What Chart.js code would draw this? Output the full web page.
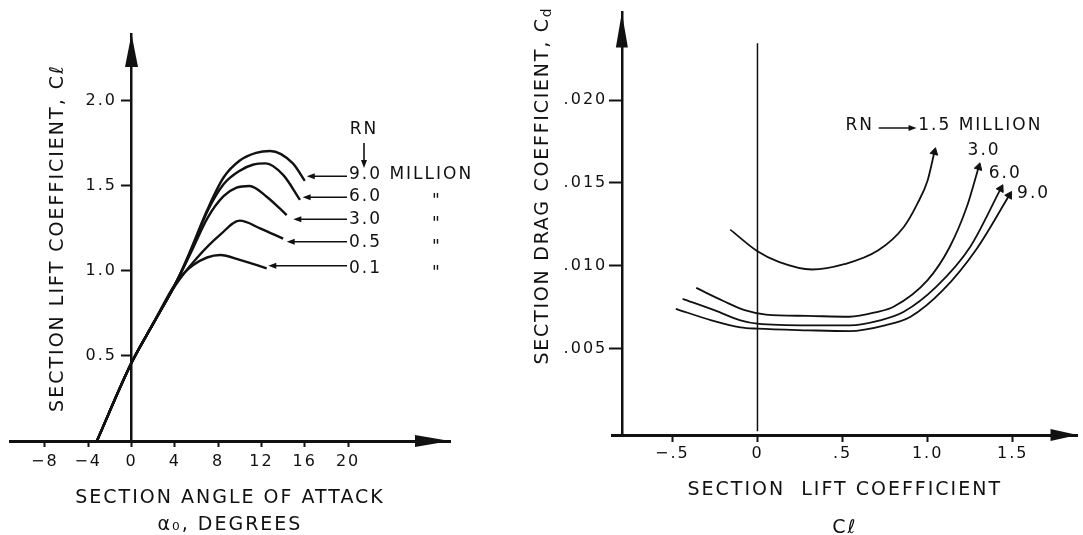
<!DOCTYPE html>
<html>
<head>
<meta charset="utf-8">
<script src="https://cdn.jsdelivr.net/npm/chart.js@4.4.1/dist/chart.umd.min.js"></script>
<style>
  html, body { margin: 0; padding: 0; background: #fff; width: 1083px; height: 535px; overflow: hidden; }
  #liftBox { position: absolute; left: 0; top: 0; width: 480px; height: 540px; }
  #dragBox { position: absolute; left: 520px; top: 0; width: 563px; height: 550px; }
</style>
</head>
<body>
<div id="liftBox"><canvas id="liftChart"></canvas></div>
<div id="dragBox"><canvas id="dragChart"></canvas></div>
<script>
// ---- lift curves: section angle of attack (deg) vs Cl, one pair per RN
const liftRN = ["9.0", "6.0", "3.0", "0.5", "0.1"];
const alpha90 = [-3.2, 0, 2.0, 4.1, 5.5, 7.0, 8.5, 10.0, 11.5, 12.8, 14.9, 16.0];
const cl90    = [0, 0.46, 0.69, 0.93, 1.13, 1.36, 1.55, 1.65, 1.695, 1.706, 1.633, 1.53];
const alpha60 = [-3.2, 0, 2.0, 4.1, 5.5, 7.0, 8.5, 10.0, 11.2, 12.4, 14.0, 15.56];
const cl60    = [0, 0.46, 0.69, 0.93, 1.12, 1.35, 1.51, 1.59, 1.625, 1.633, 1.565, 1.418];
const alpha30 = [-3.2, 0, 2.0, 4.1, 5.5, 7.0, 8.5, 9.7, 10.9, 12.48, 14.33];
const cl30    = [0, 0.46, 0.69, 0.93, 1.11, 1.31, 1.44, 1.49, 1.50, 1.437, 1.329];
const alpha05 = [-3.2, 0, 2.0, 4.1, 6.02, 8.17, 10.0, 11.87, 14.0];
const cl05    = [0, 0.46, 0.69, 0.92, 1.075, 1.212, 1.296, 1.251, 1.19];
const alpha01 = [-3.2, 0, 2.0, 4.0, 5.7, 8.2, 10.0, 12.48];
const cl01    = [0, 0.46, 0.69, 0.92, 1.035, 1.094, 1.065, 1.016];

const alphaTicks = [-8, -4, 0, 4, 8, 12, 16, 20];
const liftTicks = [0.5, 1.0, 1.5, 2.0];

// ---- drag polars: Cl vs Cd, one pair per RN
const dragRN = ["1.5", "3.0", "6.0", "9.0"];
const clD15 = [-0.16, 0, 0.125, 0.32, 0.51, 0.71, 0.86, 0.94, 1.0, 1.04];
const cdD15 = [0.01218, 0.01087, 0.01023, 0.00977, 0.01009, 0.01093, 0.01234, 0.01375, 0.01515, 0.01686];
const clD30 = [-0.36, -0.2, -0.07, 0.05, 0.3, 0.54, 0.7, 0.8, 1.0, 1.13, 1.23, 1.30];
const cdD30 = [0.00866, 0.00787, 0.0073, 0.00705, 0.00697, 0.00692, 0.0072, 0.00752, 0.00913, 0.01113, 0.01354, 0.01595];
const clD60 = [-0.44, -0.25, -0.1, 0, 0.3, 0.54, 0.72, 0.86, 1.05, 1.25, 1.43];
const cdD60 = [0.0080, 0.0073, 0.0067, 0.0065, 0.0064, 0.0064, 0.0067, 0.00722, 0.00872, 0.01113, 0.01465];
const clD90 = [-0.48, -0.27, -0.1, 0, 0.3, 0.54, 0.75, 0.9, 1.09, 1.29, 1.48];
const cdD90 = [0.0074, 0.0067, 0.00628, 0.0062, 0.0061, 0.00605, 0.0064, 0.00692, 0.00852, 0.01104, 0.01425];

const clTicks = [-0.5, 0, 0.5, 1.0, 1.5];
const clTickLabels = ["\u2212.5", "0", ".5", "1.0", "1.5"];
const cdTicks = [0.005, 0.010, 0.015, 0.020];
const cdTickLabels = [".005", ".010", ".015", ".020"];

const INK = "#111";
const FONT = "'DejaVu Sans', sans-serif";
Chart.defaults.font.family = FONT;
Chart.defaults.color = INK;

const pairs = (xs, ys) => xs.map((v, i) => ({ x: v, y: ys[i] }));

function arrow(ctx, x1, y1, x2, y2, len, half) {
  const a = Math.atan2(y2 - y1, x2 - x1);
  ctx.beginPath();
  ctx.moveTo(x1, y1);
  ctx.lineTo(x2 - Math.cos(a) * len * 0.6, y2 - Math.sin(a) * len * 0.6);
  ctx.stroke();
  head(ctx, x2, y2, a, len, half);
}

function head(ctx, x, y, a, len, half) {
  const bx = x - Math.cos(a) * len, by = y - Math.sin(a) * len;
  ctx.beginPath();
  ctx.moveTo(x, y);
  ctx.lineTo(bx - Math.sin(a) * half, by + Math.cos(a) * half);
  ctx.lineTo(bx + Math.sin(a) * half, by - Math.cos(a) * half);
  ctx.closePath();
  ctx.fill();
}

// axis arrowheads, rotated axis title, curve labels and leader arrows
const notesPlugin = {
  id: "notes",
  beforeDraw(chart) {
    chart.ctx.letterSpacing = "2px";
  },
  afterDraw(chart, args, opts) {
    const { ctx, chartArea: area, scales: { x, y } } = chart;
    ctx.save();
    ctx.fillStyle = INK;
    ctx.strokeStyle = INK;

    const yx = x.getPixelForValue(opts.yAxisAt);
    head(ctx, area.right, area.bottom, 0, opts.xHead[0], opts.xHead[1]);
    head(ctx, yx, area.top, -Math.PI / 2, opts.yHead[0], opts.yHead[1]);

    // y title, read bottom to top
    const t = opts.yTitle;
    ctx.save();
    ctx.translate(x.getPixelForValue(t.x), y.getPixelForValue(t.y));
    ctx.rotate(-Math.PI / 2);
    ctx.letterSpacing = t.spacing + "px";
    ctx.font = `19px ${FONT}`;
    ctx.textBaseline = "middle";
    const w1 = ctx.measureText(t.text).width;
    let w2 = 0;
    if (t.sub) {
      ctx.font = `14px ${FONT}`;
      w2 = ctx.measureText(t.sub).width;
      ctx.font = `19px ${FONT}`;
    }
    ctx.textAlign = "left";
    ctx.fillText(t.text, -(w1 + w2) / 2, 0);
    if (t.sub) {
      ctx.font = `14px ${FONT}`;
      ctx.fillText(t.sub, -(w1 + w2) / 2 + w1, 5);
    }
    ctx.restore();

    ctx.font = `17px ${FONT}`;
    ctx.textBaseline = "middle";
    opts.labels.forEach(l => {
      ctx.textAlign = l.align || "left";
      ctx.fillText(l.text, x.getPixelForValue(l.x), y.getPixelForValue(l.y) + (l.dy || 0));
    });

    ctx.lineWidth = 1.6;
    opts.leaders.forEach(l => {
      arrow(ctx,
        x.getPixelForValue(l.x1), y.getPixelForValue(l.y1),
        x.getPixelForValue(l.x2), y.getPixelForValue(l.y2), 8, 3);
    });
    ctx.restore();
  }
};

function curve(xs, ys, width, withTip) {
  const ds = {
    data: pairs(xs, ys),
    borderColor: INK,
    borderWidth: width,
    cubicInterpolationMode: "monotone",
    pointRadius: 0
  };
  if (withTip) {
    const last = xs.length - 1;
    ds.pointStyle = "triangle";
    ds.pointBackgroundColor = INK;
    ds.pointBorderColor = INK;
    ds.pointBorderWidth = 1;
    ds.pointRadius = c => (c.dataIndex === last ? 4.5 : 0);
    ds.pointRotation = c => {
      const { x, y } = c.chart.scales;
      const d = c.dataset.data;
      const dx = x.getPixelForValue(d[last].x) - x.getPixelForValue(d[last - 1].x);
      const dy = y.getPixelForValue(d[last].y) - y.getPixelForValue(d[last - 1].y);
      return Math.atan2(dx, -dy) * 180 / Math.PI;
    };
  }
  return ds;
}

function axisGrid(len) {
  return { drawOnChartArea: false, drawTicks: true, tickLength: len, tickWidth: 2, color: INK };
}

// a value-positioned y axis puts its labels right on the axis line,
// so the labels come from a second, bare axis placed a little to the left
function labelAxis(min, max, at, ticks, fmt) {
  return {
    type: "linear",
    axis: "y",
    min: min,
    max: max,
    position: { x: at },
    afterBuildTicks: s => { s.ticks = ticks.map(v => ({ value: v })); },
    ticks: { callback: fmt, font: { size: 16 } },
    grid: { display: false },
    border: { display: false }
  };
}

const signed = v => (v < 0 ? "\u2212" + Math.abs(v) : String(v));

// ---------------- left: lift curve ----------------
new Chart(document.getElementById("liftChart"), {
  type: "line",
  data: {
    datasets: [
      curve(alpha90, cl90, 2.4),
      curve(alpha60, cl60, 2.4),
      curve(alpha30, cl30, 2.4),
      curve(alpha05, cl05, 2.4),
      curve(alpha01, cl01, 2.4)
    ]
  },
  options: {
    responsive: true,
    maintainAspectRatio: false,
    animation: false,
    events: [],
    layout: { padding: { left: 10, right: 30, top: 34, bottom: 0 } },
    plugins: {
      legend: { display: false },
      tooltip: { enabled: false },
      notes: {
        yAxisAt: 0,
        xHead: [35, 6],
        yHead: [33, 6.5],
        yTitle: { text: "SECTION LIFT COEFFICIENT, C\u2113", x: -6.82, y: 1.194, spacing: 2 },
        labels: [
          { text: "RN", x: 21.47, y: 1.829, align: "center" },
          { text: liftRN[0] + " MILLION", x: 20.08, y: 1.565 },
          { text: liftRN[1], x: 20.08, y: 1.438 },
          { text: liftRN[2], x: 20.08, y: 1.300 },
          { text: liftRN[3], x: 20.08, y: 1.168 },
          { text: liftRN[4], x: 20.08, y: 1.012 },
          { text: "\"", x: 27.75, y: 1.438, dy: 5 },
          { text: "\"", x: 27.75, y: 1.300, dy: 5 },
          { text: "\"", x: 27.75, y: 1.168, dy: 5 },
          { text: "\"", x: 27.75, y: 1.012, dy: 5 }
        ],
        leaders: [
          { x1: 21.47, y1: 1.753, x2: 21.47, y2: 1.606 },
          { x1: 19.9, y1: 1.557, x2: 16.18, y2: 1.557 },
          { x1: 19.9, y1: 1.434, x2: 15.8, y2: 1.434 },
          { x1: 19.9, y1: 1.304, x2: 14.94, y2: 1.304 },
          { x1: 19.9, y1: 1.172, x2: 14.33, y2: 1.172 },
          { x1: 19.9, y1: 1.031, x2: 12.63, y2: 1.031 }
        ]
      }
    },
    scales: {
      x: {
        type: "linear",
        min: -11.22,
        max: 29.41,
        position: "bottom",
        afterBuildTicks: s => { s.ticks = alphaTicks.map(v => ({ value: v })); },
        afterFit: s => { s.height = 99; },
        ticks: { callback: v => signed(v), font: { size: 16 }, padding: 5, autoSkip: false, maxRotation: 0 },
        grid: axisGrid(6),
        border: { color: INK, width: 3 },
        title: {
          display: true,
          text: ["SECTION ANGLE OF ATTACK", "\u03b1\u2080, DEGREES"],
          font: { size: 19, lineHeight: 27 / 19 },
          padding: { top: 0, bottom: 1.5 }
        }
      },
      y: {
        type: "linear",
        min: 0,
        max: 2.394,
        position: { x: 0 },
        afterBuildTicks: s => { s.ticks = liftTicks.map(v => ({ value: v })); },
        ticks: { display: false },
        grid: axisGrid(9),
        border: { color: INK, width: 2.5 }
      },
      yLabels: labelAxis(0, 2.394, -1.34, liftTicks, v => v.toFixed(1))
    }
  },
  plugins: [notesPlugin]
});

// ---------------- right: drag polar ----------------
new Chart(document.getElementById("dragChart"), {
  type: "line",
  data: {
    datasets: [
      curve(clD15, cdD15, 1.8, true),
      curve(clD30, cdD30, 1.8, true),
      curve(clD60, cdD60, 1.8, true),
      curve(clD90, cdD90, 1.8, true),
      // Cl = 0 reference line
      { data: [{ x: 0, y: 0 }, { x: 0, y: 0.02343 }], borderColor: INK, borderWidth: 1.5, pointRadius: 0 }
    ]
  },
  options: {
    responsive: true,
    maintainAspectRatio: false,
    animation: false,
    events: [],
    layout: { padding: { left: 92, right: 0, top: 12, bottom: 0 } },
    plugins: {
      legend: { display: false },
      tooltip: { enabled: false },
      notes: {
        yAxisAt: -0.797,
        xHead: [27, 6],
        yHead: [35, 6],
        yTitle: { text: "SECTION DRAG COEFFICIENT, C", sub: "d", x: -1.262, y: 0.01484, spacing: 1.75 },
        labels: [
          { text: "RN", x: 0.517, y: 0.01845 },
          { text: dragRN[0] + " MILLION", x: 0.945, y: 0.01845 },
          { text: dragRN[1], x: 1.235, y: 0.01695 },
          { text: dragRN[2], x: 1.359, y: 0.01554 },
          { text: dragRN[3], x: 1.526, y: 0.01434 }
        ],
        leaders: [
          { x1: 0.7125, y1: 0.01831, x2: 0.935, y2: 0.01831 }
        ]
      }
    },
    scales: {
      x: {
        type: "linear",
        min: -0.855,
        max: 1.881,
        position: "bottom",
        afterBuildTicks: s => { s.ticks = clTicks.map(v => ({ value: v })); },
        afterFit: s => { s.height = 115; },
        ticks: { callback: (v, i) => clTickLabels[i], font: { size: 16 }, padding: 2, autoSkip: false, maxRotation: 0 },
        grid: axisGrid(7),
        border: { color: INK, width: 3 },
        title: {
          display: true,
          text: ["SECTION  LIFT COEFFICIENT", "C\u2113"],
          font: { size: 19, lineHeight: 2 },
          padding: { top: 0, bottom: 3 }
        }
      },
      y: {
        type: "linear",
        min: -0.00022,
        max: 0.02528,
        position: { x: -0.797 },
        afterBuildTicks: s => { s.ticks = cdTicks.map(v => ({ value: v })); },
        ticks: { display: false },
        grid: axisGrid(12),
        border: { color: INK, width: 2.5 }
      },
      yLabels: labelAxis(-0.00022, 0.02528, -0.883, cdTicks, (v, i) => cdTickLabels[i])
    }
  },
  plugins: [notesPlugin]
});
</script>
</body>
</html>
